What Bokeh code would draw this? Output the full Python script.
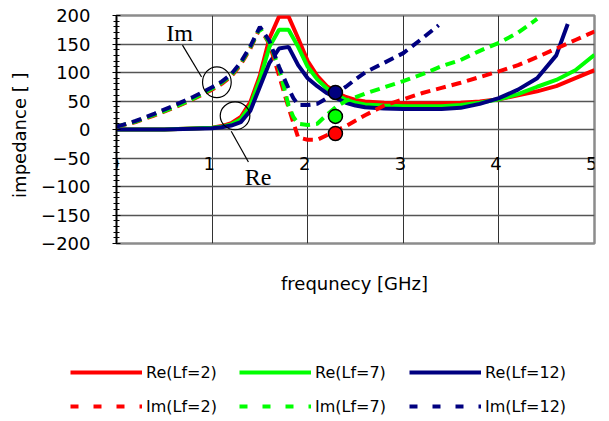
from bokeh.plotting import figure
from bokeh.models import Range1d, FixedTicker, Legend, LegendItem
from bokeh.layouts import column
from bokeh.core.properties import value
from bokeh.embed import file_html
from bokeh.resources import INLINE

# ---------------- data ----------------
x_re = [0, 0.5, 1.0, 1.1, 1.2, 1.3, 1.4, 1.5, 1.6, 1.7, 1.8, 1.9, 2.0, 2.1, 2.2, 2.3, 2.4, 2.5, 2.6,
        2.8, 3.0, 3.2, 3.4, 3.6, 3.8, 4.0, 4.2, 4.4, 4.6, 4.8, 5.0]
re_lf2 = [0, 0, 3, 6, 11, 22, 48, 95, 160, 198, 198, 160, 120, 94, 76, 65, 57, 52, 49,
          47, 46, 46, 46, 47, 49, 53, 60, 67, 76, 90, 104]
re_lf7 = [0, 0, 3, 5, 9, 18, 42, 88, 145, 175, 175, 145, 110, 88, 72, 61, 52, 47, 44,
          42, 41, 41, 41, 43, 47, 53, 62, 75, 87, 104, 131]
x_re12 = [0, 0.5, 1.0, 1.1, 1.2, 1.3, 1.4, 1.5, 1.6, 1.7, 1.8, 1.9, 2.0, 2.1, 2.2, 2.3, 2.4, 2.5, 2.6,
          2.8, 3.0, 3.2, 3.4, 3.6, 3.8, 4.0, 4.2, 4.4, 4.6, 4.72]
re_lf12 = [0, 0, 2, 4, 7, 13, 33, 75, 117, 142, 145, 113, 90, 76, 64, 55, 47, 42, 39,
           37, 36, 36, 36, 38, 45, 55, 70, 90, 130, 185]

x_im2 = [0, 0.2, 0.4, 0.6, 0.8, 1.0, 1.1, 1.2, 1.3, 1.4, 1.5, 1.6, 1.7, 1.8, 1.85, 1.9, 2.0, 2.1, 2.2,
         2.3, 2.4, 2.6, 2.8, 3.0, 3.2, 3.4, 3.6, 3.8, 4.0, 4.2, 4.4, 4.6, 4.8, 5.0]
im_lf2 = [5, 13, 25, 38, 53, 70, 80, 93, 114, 142, 178, 150, 95, 38, 12, -14, -18, -18, -10,
          -2, 6, 25, 42, 53, 64, 73, 82, 92, 102, 113, 127, 142, 157, 172]
x_im7 = [0, 0.2, 0.4, 0.6, 0.8, 1.0, 1.1, 1.2, 1.3, 1.4, 1.5, 1.6, 1.7, 1.8, 1.85, 1.9, 2.0, 2.1, 2.2,
         2.3, 2.4, 2.6, 2.8, 3.0, 3.2, 3.4, 3.6, 3.8, 4.0, 4.2, 4.4]
im_lf7 = [5, 14, 26, 39, 54, 72, 82, 95, 116, 144, 178, 152, 108, 42, 22, 10, 8, 10, 26,
          40, 50, 63, 74, 85, 97, 111, 122, 138, 152, 170, 194]
x_im12 = [0, 0.2, 0.4, 0.6, 0.8, 1.0, 1.1, 1.2, 1.3, 1.4, 1.5, 1.6, 1.7, 1.8, 1.85, 1.9, 2.0, 2.1, 2.2,
          2.3, 2.4, 2.5, 2.6, 2.8, 3.0, 3.2, 3.37]
im_lf12 = [5, 15, 28, 42, 57, 74, 84, 97, 118, 146, 180, 155, 110, 72, 55, 43, 43, 45, 55,
           65, 75, 88, 100, 117, 134, 160, 183]

marker_x = [2.29, 2.29, 2.29]
marker_y = [65, 23, -7]
marker_colors = ["#000080", "#00FF00", "#FF0000"]

x_ticks = [0, 1, 2, 3, 4, 5]
x_tick_labels = ["0", "1", "2", "3", "4", "5"]
y_ticks = [-200, -150, -100, -50, 0, 50, 100, 150, 200]
y_minor = list(range(-200, 201, 10))

series_labels = ["Lf=2", "Lf=7", "Lf=12"]
colors = ["#FF0000", "#00FF00", "#000080"]

# annotation helpers (circles + leaders + text)
ann_text = ["Im", "Re"]
ann_text_x = [0.66, 1.48]
ann_text_y = [169, -83]
ann_ell_x = [1.05, 1.24]
ann_ell_y = [83, 24]
ann_ell_w = [0.30, 0.31]
ann_ell_h = [54, 49]
ann_lead_x = [[0.69, 0.89], [1.20, 1.38]]
ann_lead_y = [[148, 92], [-3, -57]]

FONT = "DejaVu Sans"
LW = 4

# ---------------- main chart ----------------
p = figure(width=609, height=260, output_backend="svg", toolbar_location=None,
           x_range=Range1d(0, 5), y_range=Range1d(-200, 200),
           min_border_left=116, min_border_right=15, min_border_top=15, min_border_bottom=17)
p.frame_align = False

p.background_fill_color = "white"
p.border_fill_color = "white"
p.outline_line_color = "#8c8c8c"
p.outline_line_width = 2.5

p.xaxis.visible = False
p.xgrid.ticker = FixedTicker(ticks=x_ticks)
p.ygrid.ticker = FixedTicker(ticks=y_ticks)
p.xgrid.grid_line_color = "#333333"
p.xgrid.grid_line_width = 1
p.ygrid.grid_line_color = "#555555"
p.ygrid.grid_line_width = 1.3

ya = p.yaxis[0]
ya.ticker = FixedTicker(ticks=y_ticks, minor_ticks=y_minor)
ya.axis_line_color = "black"
ya.axis_line_width = 1.5
ya.major_tick_in = 4
ya.major_tick_out = 4
ya.minor_tick_in = 3
ya.minor_tick_out = 3
ya.major_tick_line_color = "black"
ya.minor_tick_line_color = "black"
ya.major_label_standoff = 22
ya.major_label_text_font = FONT
ya.major_label_text_font_size = "18px"
ya.major_label_text_color = "black"
ya.axis_label = "impedance [   ]"
ya.axis_label_text_font = FONT
ya.axis_label_text_font_size = "18px"
ya.axis_label_text_font_style = "normal"
ya.axis_label_text_color = "black"
ya.axis_label_standoff = 8

for xs, ys, c in zip([x_re, x_re, x_re12], [re_lf2, re_lf7, re_lf12], colors):
    p.line(xs, ys, line_color=c, line_width=LW)
for xs, ys, c in zip([x_im2, x_im7, x_im12], [im_lf2, im_lf7, im_lf12], colors):
    p.line(xs, ys, line_color=c, line_width=LW, line_dash="10 6")

p.scatter(marker_x, marker_y, marker="circle", size=14, fill_color=marker_colors,
          line_color="black", line_width=1.5)

p.ellipse(x=ann_ell_x, y=ann_ell_y, width=ann_ell_w, height=ann_ell_h,
          fill_color=None, line_color="black", line_width=1.2)
p.multi_line(xs=ann_lead_x, ys=ann_lead_y, line_color="black", line_width=1.2)
p.text(x=ann_text_x, y=ann_text_y, text=ann_text, text_font=value("Liberation Serif"),
       text_font_size=value("24px"), text_align="center", text_baseline="middle",
       text_color="black")

# x tick labels (axis crosses at y=0)
p.text(x=[t - 0.03 for t in x_ticks], y=[-59] * len(x_ticks), text=x_tick_labels,
       text_font=value(FONT), text_font_size=value("18px"), text_align="center",
       text_baseline="middle", text_color="black")

# ---------------- lower panel: x title + legend ----------------
H2 = 161
q = figure(width=609, height=H2, output_backend="svg", toolbar_location=None,
           x_range=Range1d(0, 609), y_range=Range1d(H2, 0),
           x_axis_location=None, y_axis_location=None,
           min_border_left=0, min_border_right=0, min_border_top=0, min_border_bottom=0)
q.frame_align = False
q.outline_line_color = None
q.xgrid.visible = False
q.ygrid.visible = False
q.background_fill_color = "white"
q.border_fill_color = "white"

q.text(x=[354], y=[23], text=["frequnecy [GHz]"], text_font=value(FONT),
       text_font_size=value("18px"), text_align="center", text_baseline="middle",
       text_color="black")

# legend proxies lie outside the visible range of this panel
proxy_x = [-60, -50]
proxy_y = [-60, -60]
col_offsets = [70, 239, 409]
for i in range(3):
    rs = q.line(x=proxy_x, y=proxy_y, line_color=colors[i], line_width=LW)
    rd = q.line(x=proxy_x, y=proxy_y, line_color=colors[i], line_width=LW, line_dash="8 15")
    leg = Legend(items=[LegendItem(label="Re(" + series_labels[i] + ")", renderers=[rs]),
                        LegendItem(label="Im(" + series_labels[i] + ")", renderers=[rd])],
                 location=(col_offsets[i], 5), orientation="vertical",
                 glyph_width=72, glyph_height=20, label_height=20, spacing=14,
                 label_standoff=4, padding=0, margin=0, border_line_color=None,
                 background_fill_alpha=0, label_text_font=FONT, label_text_font_size="16px",
                 label_text_color="black")
    q.add_layout(leg, "center")

layout = column(p, q, spacing=0)
open("out.html", "w").write(file_html(layout, INLINE))
